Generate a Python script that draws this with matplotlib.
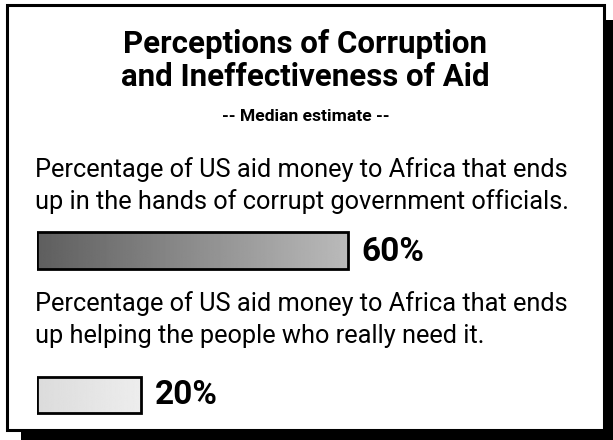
import matplotlib
matplotlib.use("Agg")
import matplotlib.pyplot as plt
import numpy as np
from matplotlib.patches import Rectangle

plt.rcParams['font.family'] = ['Roboto', 'DejaVu Sans']

title_lines = ["Perceptions of Corruption", "and Ineffectiveness of Aid"]
subtitle = "-- Median estimate --"
questions = [
    ["Percentage of US aid money to Africa that ends",
     "up in the hands of corrupt government officials."],
    ["Percentage of US aid money to Africa that ends",
     "up helping the people who really need it."],
]
values = [60, 20]
value_labels = ["60%", "20%"]

W, H = 613, 440
fig = plt.figure(figsize=(W / 100, H / 100), dpi=100)
bg = fig.add_axes([0, 0, 1, 1])
bg.set_xlim(0, W)
bg.set_ylim(H, 0)
bg.axis('off')

# shadow and box
bg.add_patch(Rectangle((21, 20), W, H, facecolor='black', edgecolor='none', zorder=0))
bg.add_patch(Rectangle((7, 5), 597, 425, facecolor='white', edgecolor='black', lw=2.2, zorder=1))

for ty, line in zip([53, 86], title_lines):
    bg.text(305, ty, line, ha='center', va='baseline', fontsize=22.5, fontweight='bold', zorder=3)
bg.text(306, 121, subtitle, ha='center', va='baseline', fontsize=12.6, fontweight='bold', zorder=3)
q_base = [(177, 209), (311, 343)]
for ys, q in zip(q_base, questions):
    for y, line in zip(ys, q):
        bg.text(35, y, line, ha='left', va='baseline', fontsize=18.3, zorder=3)

# bars
ax = fig.add_axes([37 / W, 0, 518 / W, 1])
ax.set_xlim(0, 100)
ax.set_ylim(H, 0)
ax.axis('off')
ax.patch.set_alpha(0)
bar_y = [(232, 269), (377, 413)]
label_base = [261, 404]
grads = [(0.37, 0.73), (0.86, 0.93)]
for v, (y0, y1), (c0, c1), lab, lb in zip(values, bar_y, grads, value_labels, label_base):
    g = np.linspace(c0, c1, 256)[None, :]
    ax.imshow(g, cmap='gray', vmin=0, vmax=1, extent=(0, v, y1, y0), aspect='auto', zorder=2)
    ax.add_patch(Rectangle((0, y0), v, y1 - y0, facecolor='none', edgecolor='black', lw=2, zorder=3))
    ax.text(v + 2.7, lb, lab, ha='left', va='baseline', fontsize=24, fontweight='bold', zorder=3)
ax.set_xlim(0, 100)
ax.set_ylim(H, 0)

fig.savefig("out.png", dpi=100)
